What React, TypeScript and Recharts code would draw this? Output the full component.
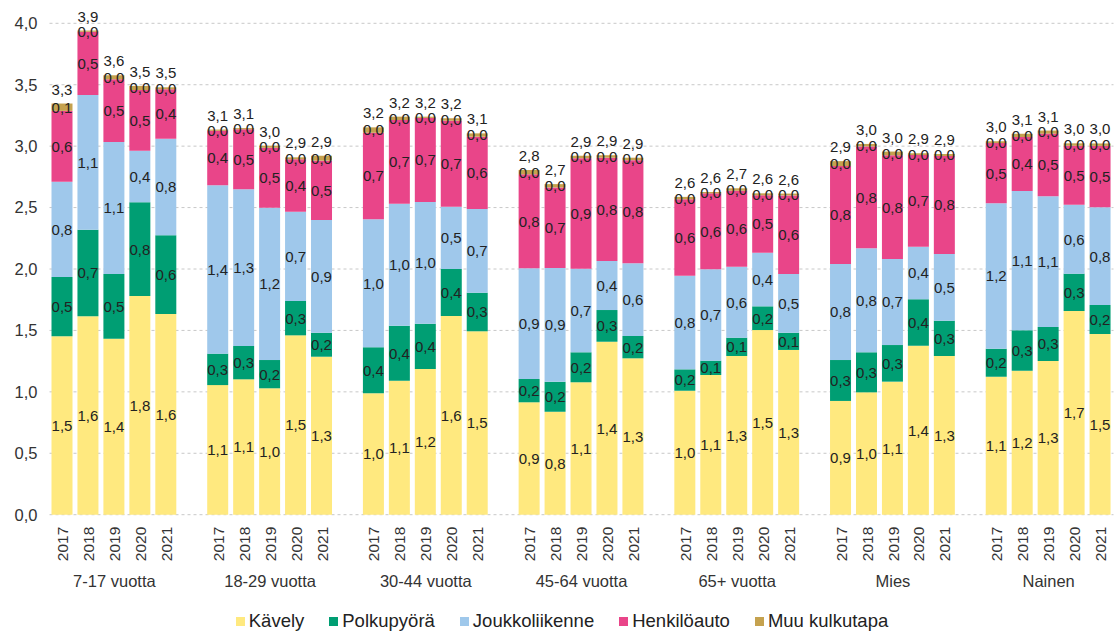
import React from 'react';
import { BarChart, Bar, XAxis, YAxis, CartesianGrid, LabelList, Legend } from 'recharts';

const groups = ['7-17 vuotta', '18-29 vuotta', '30-44 vuotta', '45-64 vuotta', '65+ vuotta', 'Mies', 'Nainen'];
const years = ['2017', '2018', '2019', '2020', '2021'];

const kavely = [
  1.452, 1.615, 1.433, 1.78, 1.634,
  1.055, 1.102, 1.029, 1.46, 1.286,
  0.988, 1.091, 1.186, 1.617, 1.493,
  0.915, 0.838, 1.078, 1.408, 1.273,
  1.009, 1.137, 1.292, 1.503, 1.341,
  0.926, 0.996, 1.083, 1.376, 1.292,
  1.123, 1.172, 1.251, 1.658, 1.471,
];
const polkupyora = [
  0.483, 0.705, 0.526, 0.763, 0.64,
  0.256, 0.271, 0.23, 0.28, 0.195,
  0.375, 0.447, 0.369, 0.383, 0.314,
  0.19, 0.244, 0.244, 0.258, 0.182,
  0.174, 0.117, 0.149, 0.193, 0.14,
  0.333, 0.326, 0.298, 0.377, 0.287,
  0.228, 0.329, 0.277, 0.304, 0.236,
];
const joukkoliikenne = [
  0.776, 1.096, 1.075, 0.42, 0.787,
  1.37, 1.276, 1.24, 0.726, 0.918,
  1.041, 0.994, 0.99, 0.507, 0.681,
  0.901, 0.926, 0.68, 0.4, 0.591,
  0.763, 0.744, 0.578, 0.437, 0.478,
  0.782, 0.846, 0.7, 0.429, 0.543,
  1.184, 1.134, 1.064, 0.561, 0.795,
];
const henkiloauto = [
  0.576, 0.515, 0.51, 0.494, 0.402,
  0.444, 0.488, 0.488, 0.427, 0.483,
  0.705, 0.681, 0.685, 0.7, 0.589,
  0.765, 0.656, 0.9, 0.84, 0.84,
  0.621, 0.618, 0.618, 0.467, 0.64,
  0.797, 0.83, 0.845, 0.746, 0.798,
  0.49, 0.44, 0.51, 0.48, 0.5,
];
const muu = [
  0.06, 0.01, 0.033, 0.033, 0.016,
  0.01, 0.01, 0.017, 0.016, 0.04,
  0.044, 0.027, 0.01, 0.02, 0.027,
  0.035, 0.027, 0.02, 0.02, 0.02,
  0.02, 0.011, 0.02, 0.016, 0.015,
  0.04, 0.02, 0.03, 0.014, 0.016,
  0.015, 0.025, 0.025, 0.02, 0.02,
];

const series = [
  { key: 'kavely', name: 'Kävely', color: '#FFE97F', values: kavely },
  { key: 'polkupyora', name: 'Polkupyörä', color: '#009E73', values: polkupyora },
  { key: 'joukkoliikenne', name: 'Joukkoliikenne', color: '#9FC8EB', values: joukkoliikenne },
  { key: 'henkiloauto', name: 'Henkilöauto', color: '#E94589', values: henkiloauto },
  { key: 'muu', name: 'Muu kulkutapa', color: '#C5A24F', values: muu },
];

const yTicks = [0, 0.5, 1, 1.5, 2, 2.5, 3, 3.5, 4];

type Row = { k: string; year: string; group: string; [key: string]: any };
const rows: Row[] = [];
groups.forEach((g, gi) => {
  if (gi > 0) rows.push({ k: `sp${gi}`, year: '', group: '' });
  years.forEach((y, yi) => {
    const i = gi * years.length + yi;
    const r: Row = { k: `${gi}-${y}`, year: y, group: yi === 2 ? g : '' };
    let t = 0;
    series.forEach((s) => {
      r[s.key] = s.values[i];
      t += s.values[i];
    });
    r.total = t;
    rows.push(r);
  });
});
const rowByKey: Record<string, Row> = {};
rows.forEach((r) => (rowByKey[r.k] = r));

const FONT = '"Liberation Sans", Arial, sans-serif';
const fmt = (v: any) => (v == null || v === '' || isNaN(Number(v)) ? '' : Number(v).toFixed(1).replace('.', ','));

const makeLabel = (mode: 'center' | 'top') => (props: any) => {
  const { value } = props;
  const vb = props.viewBox || props;
  if (value == null || vb == null || vb.x == null) return <g />;
  const h = Number(vb.height) || 0;
  const top = Math.min(vb.y, vb.y + h);
  const cx = vb.x + (vb.width || 0) / 2;
  const ty = mode === 'center' ? top + Math.abs(h) / 2 : top - 9;
  return (
    <text
      x={cx}
      y={ty}
      dy={mode === 'center' ? '0.36em' : 0}
      textAnchor="middle"
      fontSize={15}
      fill="#222"
      fontFamily={FONT}
    >
      {fmt(value)}
    </text>
  );
};
const centerLabel = makeLabel('center');
const topLabel = makeLabel('top');

const XTick = (props: any) => {
  const { x, y, payload } = props;
  const row = rowByKey[payload?.value];
  if (!row || !row.year) return <g />;
  return (
    <g transform={`translate(${x},${y})`}>
      <text transform="rotate(-90)" x={-4} y={0} dy="0.36em" textAnchor="end" fontSize={15.5} fill="#333" fontFamily={FONT}>
        {row.year}
      </text>
      {row.group ? (
        <text x={0} y={64} textAnchor="middle" fontSize={16.5} fill="#333" fontFamily={FONT}>
          {row.group}
        </text>
      ) : null}
    </g>
  );
};

const LegendContent = () => (
  <div
    style={{
      display: 'flex',
      justifyContent: 'center',
      alignItems: 'center',
      gap: 25,
      fontFamily: FONT,
      fontSize: 18.5,
      color: '#222',
      height: 30,
      paddingLeft: 4,
    }}
  >
    {series.map((s) => (
      <div key={s.key} style={{ display: 'flex', alignItems: 'center' }}>
        <span style={{ display: 'inline-block', width: 9, height: 9, background: s.color, marginRight: 4 }} />
        <span>{s.name}</span>
      </div>
    ))}
  </div>
);

export default function App() {
  return (
    <div style={{ position: 'absolute', left: 0, top: 0, width: 1120, height: 634, background: '#fff' }}>
      <BarChart
        width={1120}
        height={634}
        data={rows}
        margin={{ top: 23.3, right: 6.5, left: 0, bottom: 39.3 }}
        style={{ fontFamily: FONT }}
      >
        <CartesianGrid vertical={false} strokeDasharray="3 3" stroke="#c8c8c8" />
        <XAxis dataKey="k" interval={0} tick={XTick} tickLine={false} axisLine={false} height={80} />
        <YAxis
          domain={[0, 4]}
          ticks={yTicks}
          tickFormatter={fmt}
          axisLine={false}
          tickLine={false}
          width={49.5}
          tickMargin={6}
          tick={{ fontSize: 16.5, fill: '#333' }}
        />
        <Legend
          verticalAlign="middle"
          layout="horizontal"
          align="center"
          content={LegendContent}
          wrapperStyle={{ top: 606, left: 0, width: 1120, height: 30 }}
        />
        {series.map((s, si) => (
          <Bar key={s.key} dataKey={s.key} name={s.name} stackId="a" fill={s.color} barSize={21} isAnimationActive={false}>
            <LabelList dataKey={s.key} content={centerLabel} />
            {si === series.length - 1 ? <LabelList dataKey="total" content={topLabel} /> : null}
          </Bar>
        ))}
      </BarChart>
    </div>
  );
}
